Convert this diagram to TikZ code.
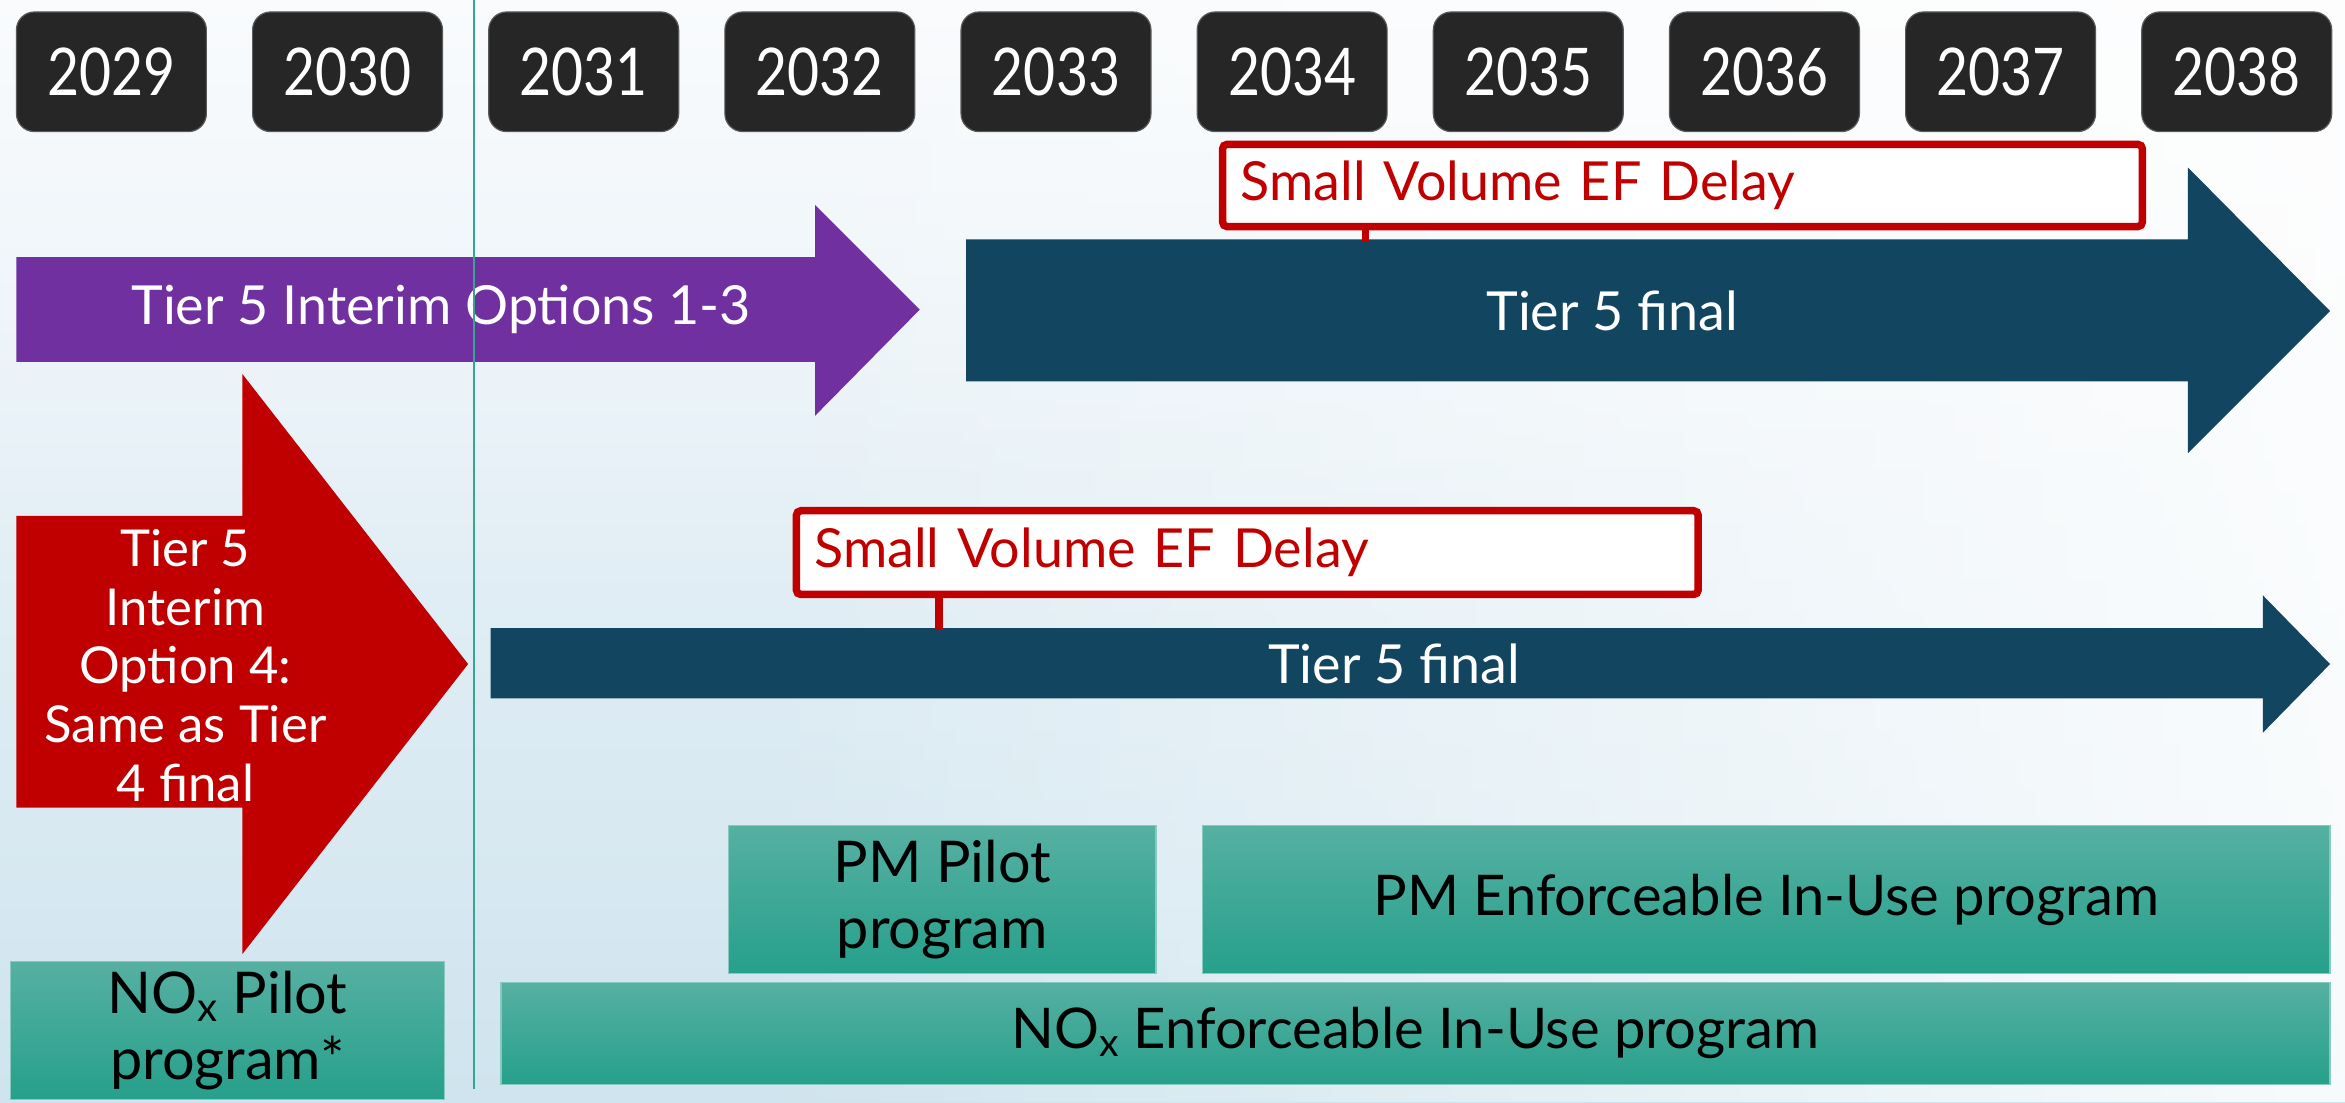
\documentclass[tikz,border=0pt]{standalone}
\usepackage{fontspec}
\setmainfont{Lato}
\usetikzlibrary{fadings}
\definecolor{yearbg}{HTML}{262626}
\definecolor{purp}{HTML}{7030A0}
\definecolor{navy}{HTML}{124560}
\definecolor{crimson}{HTML}{C00000}
\definecolor{tealtop}{HTML}{56B0A2}
\definecolor{tealbot}{HTML}{26A08B}
\definecolor{vlinec}{HTML}{35A596}
\definecolor{bgtop}{HTML}{F4F8FC}
\definecolor{bgbot}{HTML}{CFE4EE}
\tikzset{
  yearbox/.style={fill=yearbg, draw=gray!70!black, line width=0.8pt, rounded corners=12pt,
    minimum width=127pt, minimum height=80pt, inner sep=0pt, text=white,
    font=\fontsize{44}{44}\selectfont},
  wtext/.style={text=white, inner sep=0pt, font=\fontsize{36}{39}\selectfont},
  svbox/.style={draw=crimson, line width=5pt, rounded corners=3pt, fill=white,
    text=crimson, align=left, text width=591pt, inner xsep=12pt, inner ysep=0pt,
    font=\fontsize{36}{39}\selectfont},
  stem/.style={draw=crimson, line width=5pt},
  tealbox/.style={top color=tealtop, bottom color=tealbot, draw=tealtop!70!white,
    line width=0.8pt, inner sep=0pt, text=black, align=center,
    font=\fontsize{37.5}{44}\selectfont},
  vlinest/.style={draw=vlinec, line width=1.5pt}
}
\begin{document}
\begin{tikzpicture}[x=1pt,y=-1pt]
% background
\shade[top color=bgtop, bottom color=bgbot] (0,0) rectangle (1568,737);
\fill[white, opacity=0.85, path fading=west] (500,0) rectangle (1568,737);
\fill[white, opacity=0.5, path fading=south] (0,0) rectangle (1568,400);
\useasboundingbox (0,0) rectangle (1568,737);

% year boxes
\foreach \i in {0,...,9}{
  \pgfmathtruncatemacro{\yr}{2029+\i}
  \node[yearbox] (y\i) at ({74.5+157.9*\i},48) {\scalebox{0.84}[1]{\yr}};
}

% purple arrow
\fill[purp] (11,172) -- (545,172) -- (545,137) -- (615,207) -- (545,278) -- (545,242) -- (11,242) -- cycle;
\node[wtext] (opt13) at (295,207) {Tier 5 Interim Options 1-3};

% top navy arrow
\fill[navy] (646,160) -- (1463,160) -- (1463,112) -- (1558,208) -- (1463,303) -- (1463,255) -- (646,255) -- cycle;
\node[wtext] (fin1) at (1078,208) {Tier 5 final};

% delay box 1
\node[svbox, minimum height=55pt] (sv1) at (1125,124) {Small Volume EF Delay};
\coordinate (s1) at (913,161);
\draw[stem] (sv1.south -| s1) -- (s1);

% red arrow
\fill[crimson] (11,345) -- (162,345) -- (162,250) -- (313,444) -- (162,638) -- (162,540) -- (11,540) -- cycle;
\node[wtext, align=center, font=\fontsize{34}{39.3}\selectfont] (opt4) at (124,445)
  {Tier 5\\Interim\\Option 4:\\Same as Tier\\4 final};

% second navy arrow
\fill[navy] (328,420) -- (1513,420) -- (1513,398) -- (1558,444) -- (1513,490) -- (1513,467) -- (328,467) -- cycle;
\node[wtext] (fin2) at (932,444) {Tier 5 final};

% delay box 2
\node[svbox, text width=579pt, minimum height=56pt] (sv2) at (834,369.5) {Small Volume EF Delay};
\coordinate (s2) at (628,421);
\draw[stem] (sv2.south -| s2) -- (s2);

% teal boxes
\node[tealbox, minimum width=286pt, minimum height=99pt, font=\fontsize{38.5}{44}\selectfont] (pmpilot) at (630,601.5) {PM Pilot\\program};
\node[tealbox, minimum width=754pt, minimum height=99pt] (pmenf) at (1181,601.5) {PM Enforceable In-Use program};
\node[tealbox, minimum width=1223pt, minimum height=68pt] (noxenf) at (946.5,691) {NO\textsubscript{x} Enforceable In-Use program};
\node[tealbox, minimum width=290pt, minimum height=92pt, font=\fontsize{38.5}{44}\selectfont] (noxpilot) at (152,689) {NO\textsubscript{x} Pilot\\program*};

% vertical line
\coordinate (vtop) at (317,0);
\coordinate (vbot) at (317,728);
\draw[vlinest] (vtop) -- (vbot);
\end{tikzpicture}
\end{document}
